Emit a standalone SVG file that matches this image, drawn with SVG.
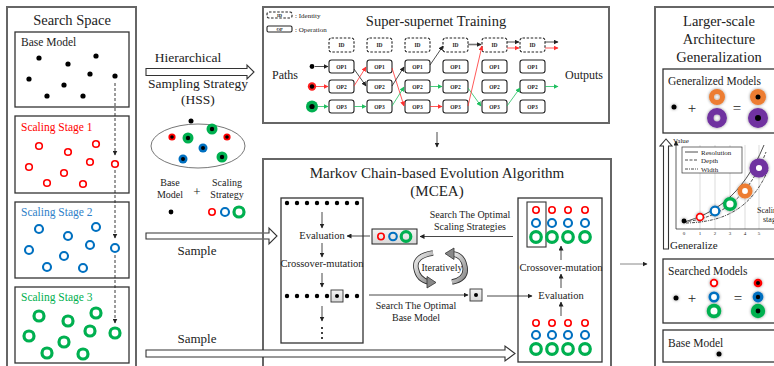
<svg xmlns="http://www.w3.org/2000/svg" width="774" height="366" viewBox="0 0 774 366">
<defs>
<style>
text{font-family:"Liberation Serif","Times New Roman",serif;fill:#222}
.outer{fill:none;stroke:#666;stroke-width:2}
.box{fill:none;stroke:#333;stroke-width:1.3}
.rr{fill:none;stroke:#ff0000;stroke-width:1.6}
.bb{fill:none;stroke:#0070c0;stroke-width:2.1}
.gg{fill:none;stroke:#00b050;stroke-width:3.2}
.nd{fill:#fff;stroke:#222;stroke-width:1.1}
.id{fill:#fff;stroke:#222;stroke-width:1.1;stroke-dasharray:2.5 1.6}
.nl{font-size:5.5px;font-weight:bold;text-anchor:middle}
.ek{stroke:#222;stroke-width:0.8;fill:none}
.er{stroke:#ff3030;stroke-width:0.8;fill:none}
.eg{stroke:#1fbf5f;stroke-width:0.8;fill:none}
.hol{fill:#fff;stroke:#333;stroke-width:1.1}
.ar{stroke:#333;stroke-width:0.9;fill:none}
.sm{font-size:10.5px;text-anchor:middle}
</style>
<marker id="mk" viewBox="0 0 10 10" refX="9" refY="5" markerWidth="5" markerHeight="5" markerUnits="userSpaceOnUse" orient="auto"><path d="M0,0L10,5L0,10z" fill="#222"/></marker>
<marker id="mr" viewBox="0 0 10 10" refX="9" refY="5" markerWidth="5" markerHeight="5" markerUnits="userSpaceOnUse" orient="auto"><path d="M0,0L10,5L0,10z" fill="#ff3030"/></marker>
<marker id="mg" viewBox="0 0 10 10" refX="9" refY="5" markerWidth="5" markerHeight="5" markerUnits="userSpaceOnUse" orient="auto"><path d="M0,0L10,5L0,10z" fill="#1fbf5f"/></marker>
<linearGradient id="gb" x1="0" y1="0" x2="0" y2="1"><stop offset="0" stop-color="#f4f4f4"/><stop offset="1" stop-color="#d8d8d8"/></linearGradient>
<linearGradient id="ga" x1="0" y1="0" x2="1" y2="1"><stop offset="0" stop-color="#eee"/><stop offset="1" stop-color="#888"/></linearGradient>
<filter id="sh" x="-50%" y="-50%" width="200%" height="200%"><feDropShadow dx="0" dy="0" stdDeviation="1.4" flood-color="#000" flood-opacity="0.45"/></filter>
</defs>

<!-- Left panel: Search Space -->
<g id="search-space">
<rect class="outer" x="7" y="7" width="129" height="366"/>
<text x="72" y="25" font-size="14.5" text-anchor="middle">Search Space</text>
</g>
<g id="base-model-space">
<rect class="box" x="15" y="32" width="114" height="75"/>
<text x="21" y="46" font-size="11.5">Base Model</text>
<g fill="#000">
<circle cx="39" cy="58" r="2.6"/><circle cx="68" cy="64" r="2.6"/><circle cx="96" cy="56" r="2.6"/>
<circle cx="29" cy="79" r="2.6"/><circle cx="64" cy="85" r="2.6"/><circle cx="90" cy="74" r="2.6"/>
<circle cx="115" cy="76" r="2.6"/><circle cx="47" cy="96" r="2.6"/><circle cx="83" cy="96" r="2.6"/>
</g>
</g>
<g id="stage1">
<rect class="box" x="15" y="116" width="114" height="77"/>
<text x="21" y="131" font-size="11.5" style="fill:#ff0000">Scaling Stage 1</text>
<g class="rr">
<circle cx="39" cy="146" r="3.3"/><circle cx="68" cy="152" r="3.3"/><circle cx="96" cy="144" r="3.3"/>
<circle cx="29" cy="167" r="3.3"/><circle cx="64" cy="173" r="3.3"/><circle cx="90" cy="162" r="3.3"/>
<circle cx="115" cy="164" r="3.3"/><circle cx="47" cy="183" r="3.3"/><circle cx="83" cy="184" r="3.3"/>
</g>
</g>
<g id="stage2">
<rect class="box" x="15" y="202" width="114" height="76"/>
<text x="21" y="216" font-size="11.5" style="fill:#2f80c8">Scaling Stage 2</text>
<g class="bb">
<circle cx="39" cy="229" r="4"/><circle cx="68" cy="236" r="4"/><circle cx="96" cy="227" r="4"/>
<circle cx="29" cy="250" r="4"/><circle cx="64" cy="256" r="4"/><circle cx="90" cy="245" r="4"/>
<circle cx="115" cy="248" r="4"/><circle cx="47" cy="267" r="4"/><circle cx="83" cy="268" r="4"/>
</g>
</g>
<g id="stage3">
<rect class="box" x="15" y="287" width="114" height="76"/>
<text x="21" y="301" font-size="11.5" style="fill:#00b050">Scaling Stage 3</text>
<g class="gg">
<circle cx="39" cy="316" r="5"/><circle cx="68" cy="321" r="5"/><circle cx="96" cy="313" r="5"/>
<circle cx="29" cy="336" r="5"/><circle cx="64" cy="342" r="5"/><circle cx="90" cy="331" r="5"/>
<circle cx="115" cy="333" r="5"/><circle cx="47" cy="353" r="5"/><circle cx="83" cy="354" r="5"/>
</g>
</g>

<!-- HSS -->
<g id="hss">
<polygon class="hol" points="146,68.5 247,68.5 247,65 254,72 247,79 247,75.5 146,75.5"/>
<text x="188" y="62" font-size="13.5" text-anchor="middle">Hierarchical</text>
<text x="198" y="88" font-size="13.5" text-anchor="middle">Sampling Strategy</text>
<text x="198" y="104" font-size="13.5" text-anchor="middle">(HSS)</text>
<ellipse cx="198" cy="146" rx="47" ry="22" fill="none" stroke="#777" stroke-width="1"/>
<circle cx="191" cy="121" r="2.5" fill="#000"/>
<circle cx="212" cy="129" r="5.5" fill="#00b050"/><circle cx="212" cy="129" r="2.2" fill="#000"/>
<circle cx="172" cy="137" r="3.6" fill="#ff0000"/><circle cx="172" cy="137" r="1.8" fill="#000"/>
<circle cx="188" cy="138" r="5.5" fill="#00b050"/><circle cx="188" cy="138" r="2.2" fill="#000"/>
<circle cx="227" cy="137" r="3.6" fill="#ff0000"/><circle cx="227" cy="137" r="1.8" fill="#000"/>
<circle cx="203" cy="148" r="4.5" fill="#0070c0"/><circle cx="203" cy="148" r="2" fill="#000"/>
<circle cx="183" cy="159" r="4.5" fill="#0070c0"/><circle cx="183" cy="159" r="2" fill="#000"/>
<circle cx="222" cy="157" r="5.5" fill="#00b050"/><circle cx="222" cy="157" r="2.2" fill="#000"/>
<text x="170" y="186" font-size="10" text-anchor="middle">Base</text>
<text x="170" y="198" font-size="10" text-anchor="middle">Model</text>
<text x="197" y="196" font-size="13" text-anchor="middle">+</text>
<text x="227" y="186" font-size="10" text-anchor="middle">Scaling</text>
<text x="227" y="198" font-size="10" text-anchor="middle">Strategy</text>
<circle cx="171" cy="212" r="2.4" fill="#000"/>
<circle cx="212" cy="212" r="3.2" class="rr"/>
<circle cx="225" cy="212" r="4" class="bb"/>
<circle cx="239" cy="212" r="5" class="gg"/>
</g>

<!-- Sample arrows -->
<g id="sample-arrows">
<polygon class="hol" points="146,233 269,233 269,228 277,236 269,244 269,239 146,239"/>
<text x="197" y="255" font-size="13" text-anchor="middle">Sample</text>
<text x="197" y="343" font-size="13" text-anchor="middle">Sample</text>
</g>

<!-- Super-supernet training -->
<g id="supernet">
<rect x="263" y="7" width="346" height="116" fill="#fff" stroke="#666" stroke-width="2"/>
<text x="436" y="26" font-size="14.5" text-anchor="middle">Super-supernet Training</text>
<rect class="id" x="267" y="12" width="25" height="6" rx="2"/><text x="279.5" y="17" class="nl" style="font-size:4.5px">ID</text>
<text x="295" y="18" font-size="7">: Identity</text>
<rect class="nd" x="267" y="26" width="25" height="6" rx="1.5"/><text x="279.5" y="31" class="nl" style="font-size:4.5px">OP</text>
<text x="295" y="32" font-size="7">: Operation</text>
<text x="272" y="79" font-size="12">Paths</text>
<text x="565" y="79" font-size="12">Outputs</text>
<circle cx="312" cy="66.5" r="2.4" fill="#000"/>
<circle cx="312" cy="86.5" r="4.2" fill="#ff2020"/><circle cx="312" cy="86.5" r="2.2" fill="#000"/>
<circle cx="312" cy="106.5" r="6" fill="#00b050"/><circle cx="312" cy="106.5" r="2.6" fill="#000"/>
</g>
<g id="ss-nodes">
<g id="col1"><rect class="id" x="329" y="38" width="25" height="14" rx="2.5"/><text class="nl" x="341.5" y="47">ID</text>
<rect class="nd" x="329" y="60" width="25" height="13" rx="2.5"/><text class="nl" x="341.5" y="68.5">OP1</text>
<rect class="nd" x="329" y="80" width="25" height="13" rx="2.5"/><text class="nl" x="341.5" y="88.5">OP2</text>
<rect class="nd" x="329" y="100" width="25" height="13" rx="2.5"/><text class="nl" x="341.5" y="108.5">OP3</text></g>
<g id="col2"><rect class="id" x="367" y="38" width="25" height="14" rx="2.5"/><text class="nl" x="379.5" y="47">ID</text>
<rect class="nd" x="367" y="60" width="25" height="13" rx="2.5"/><text class="nl" x="379.5" y="68.5">OP1</text>
<rect class="nd" x="367" y="80" width="25" height="13" rx="2.5"/><text class="nl" x="379.5" y="88.5">OP2</text>
<rect class="nd" x="367" y="100" width="25" height="13" rx="2.5"/><text class="nl" x="379.5" y="108.5">OP3</text></g>
<g id="col3"><rect class="id" x="405" y="38" width="25" height="14" rx="2.5"/><text class="nl" x="417.5" y="47">ID</text>
<rect class="nd" x="405" y="60" width="25" height="13" rx="2.5"/><text class="nl" x="417.5" y="68.5">OP1</text>
<rect class="nd" x="405" y="80" width="25" height="13" rx="2.5"/><text class="nl" x="417.5" y="88.5">OP2</text>
<rect class="nd" x="405" y="100" width="25" height="13" rx="2.5"/><text class="nl" x="417.5" y="108.5">OP3</text></g>
<g id="col4"><rect class="id" x="443" y="38" width="25" height="14" rx="2.5"/><text class="nl" x="455.5" y="47">ID</text>
<rect class="nd" x="443" y="60" width="25" height="13" rx="2.5"/><text class="nl" x="455.5" y="68.5">OP1</text>
<rect class="nd" x="443" y="80" width="25" height="13" rx="2.5"/><text class="nl" x="455.5" y="88.5">OP2</text>
<rect class="nd" x="443" y="100" width="25" height="13" rx="2.5"/><text class="nl" x="455.5" y="108.5">OP3</text></g>
<g id="col5"><rect class="id" x="482" y="38" width="25" height="14" rx="2.5"/><text class="nl" x="494.5" y="47">ID</text>
<rect class="nd" x="482" y="60" width="25" height="13" rx="2.5"/><text class="nl" x="494.5" y="68.5">OP1</text>
<rect class="nd" x="482" y="80" width="25" height="13" rx="2.5"/><text class="nl" x="494.5" y="88.5">OP2</text>
<rect class="nd" x="482" y="100" width="25" height="13" rx="2.5"/><text class="nl" x="494.5" y="108.5">OP3</text></g>
<g id="col6"><rect class="id" x="520" y="38" width="25" height="14" rx="2.5"/><text class="nl" x="532.5" y="47">ID</text>
<rect class="nd" x="520" y="60" width="25" height="13" rx="2.5"/><text class="nl" x="532.5" y="68.5">OP1</text>
<rect class="nd" x="520" y="80" width="25" height="13" rx="2.5"/><text class="nl" x="532.5" y="88.5">OP2</text>
<rect class="nd" x="520" y="100" width="25" height="13" rx="2.5"/><text class="nl" x="532.5" y="108.5">OP3</text></g>
</g>
<g id="ss-edges">
<line class="ek" x1="315" y1="66.5" x2="328" y2="66.5" marker-end="url(#mk)"/>
<line class="er" x1="316" y1="86.5" x2="328" y2="86.5" marker-end="url(#mr)"/>
<line class="eg" x1="318" y1="106.5" x2="328" y2="106.5" marker-end="url(#mg)"/>
<line class="ek" x1="354" y1="69" x2="366" y2="86" marker-end="url(#mk)"/>
<line class="er" x1="354" y1="86" x2="366" y2="67" marker-end="url(#mr)"/>
<line class="eg" x1="354" y1="106.5" x2="366" y2="106.5" marker-end="url(#mg)"/>
<line class="er" x1="392" y1="68" x2="404" y2="106" marker-end="url(#mr)"/>
<line class="ek" x1="392" y1="86" x2="404" y2="67" marker-end="url(#mk)"/>
<line class="eg" x1="392" y1="106" x2="404" y2="87" marker-end="url(#mg)"/>
<line class="ek" x1="430" y1="65" x2="443" y2="46" marker-end="url(#mk)"/>
<line class="eg" x1="430" y1="86.5" x2="442" y2="86.5" marker-end="url(#mg)"/>
<line class="er" x1="430" y1="106.5" x2="442" y2="106.5" marker-end="url(#mr)"/>
<line x1="468" y1="44.5" x2="481" y2="44.5" stroke="#777" stroke-width="1.6" marker-end="url(#mk)"/>
<line class="eg" x1="468" y1="88" x2="481" y2="106" marker-end="url(#mg)"/>
<line class="er" x1="468" y1="106" x2="482" y2="46" marker-end="url(#mr)"/>
<line class="ek" x1="507" y1="42" x2="519" y2="42" marker-end="url(#mk)"/>
<line class="er" x1="507" y1="48" x2="519" y2="48" marker-end="url(#mr)"/>
<line class="eg" x1="507" y1="106" x2="520" y2="88" marker-end="url(#mg)"/>
<line class="ek" x1="545" y1="42" x2="558" y2="42" marker-end="url(#mk)"/>
<line class="er" x1="545" y1="48" x2="558" y2="48" marker-end="url(#mr)"/>
<line class="eg" x1="545" y1="86.5" x2="558" y2="86.5" marker-end="url(#mg)"/>
</g>

<!-- MCEA -->
<g id="mcea">
<rect class="outer" x="263" y="159" width="348" height="215"/>
<text x="437" y="178" font-size="15" text-anchor="middle">Markov Chain-based Evolution Algorithm</text>
<text x="437" y="196" font-size="15" text-anchor="middle">(MCEA)</text>
</g>
<g id="mcea-left">
<rect class="box" x="281" y="198" width="82" height="145"/>
<g fill="#000"><circle cx="287" cy="203" r="2.2"/><circle cx="297" cy="203" r="2.2"/><circle cx="307" cy="203" r="2.2"/><circle cx="317" cy="203" r="2.2"/><circle cx="327" cy="203" r="2.2"/><circle cx="337" cy="203" r="2.2"/><circle cx="347" cy="203" r="2.2"/><circle cx="357" cy="203" r="2.2"/></g>
<text class="sm" x="322" y="239">Evaluation</text>
<text class="sm" x="322" y="267">Crossover-mutation</text>
<rect x="331" y="290" width="12" height="12" fill="url(#gb)" stroke="#333" stroke-width="0.9"/>
<g fill="#000"><circle cx="287" cy="296" r="2.2"/><circle cx="297" cy="296" r="2.2"/><circle cx="307" cy="296" r="2.2"/><circle cx="317" cy="296" r="2.2"/><circle cx="327" cy="296" r="2.2"/><circle cx="337" cy="296" r="2"/><circle cx="347" cy="296" r="2.2"/><circle cx="357" cy="296" r="2.2"/></g>
<g fill="#000"><circle cx="322" cy="328" r="1"/><circle cx="322" cy="333" r="1"/><circle cx="322" cy="338" r="1"/></g>
</g>
<g id="mcea-scaling-box">
<rect x="372" y="229" width="45" height="15" fill="url(#gb)" stroke="#222" stroke-width="1"/>
<circle cx="381" cy="236.5" r="3.2" class="rr"/>
<circle cx="393" cy="236.5" r="3.8" class="bb"/>
<circle cx="406" cy="236.5" r="4.8" class="gg"/>
</g>
<g id="mcea-base-box">
<rect x="470" y="289" width="12" height="12" fill="url(#gb)" stroke="#333" stroke-width="0.9"/>
<circle cx="476" cy="295" r="2" fill="#000"/>
</g>
<g id="mcea-text">
<text x="470" y="218" font-size="10" text-anchor="middle">Search The Optimal</text>
<text x="470" y="230" font-size="10" text-anchor="middle">Scaling Strategies</text>
<text x="416" y="309" font-size="10" text-anchor="middle">Search The Optimal</text>
<text x="416" y="321" font-size="10" text-anchor="middle">Base Model</text>
<text x="442" y="271" font-size="10" text-anchor="middle">Iteratively</text>
</g>
<g id="iter-arrows">
<path d="M433,253 Q414,256 416,268 Q418,280 429,282" fill="none" stroke="#333" stroke-width="5.5"/>
<path d="M433,253 Q414,256 416,268 Q418,280 429,282" fill="none" stroke="url(#ga)" stroke-width="3.8"/>
<polygon points="436,282.5 427,276.5 427,288" fill="#888" stroke="#333" stroke-width="0.8"/>
<path d="M452,282 Q467,279 465,267 Q463,255 453,254" fill="none" stroke="#333" stroke-width="5.5"/>
<path d="M452,282 Q467,279 465,267 Q463,255 453,254" fill="none" stroke="url(#ga)" stroke-width="3.8"/>
<polygon points="445,253.5 454,248 454,259.5" fill="#888" stroke="#333" stroke-width="0.8"/>
</g>
<g id="mcea-right">
<rect class="box" x="518" y="198" width="84" height="164"/>
<rect x="527" y="202" width="19" height="45" fill="none" stroke="#333" stroke-width="1.1"/>
<g class="rr"><circle cx="536" cy="210" r="3.2"/><circle cx="552" cy="210" r="3.2"/><circle cx="568" cy="210" r="3.2"/><circle cx="585" cy="210" r="3.2"/></g>
<g class="bb"><circle cx="536" cy="223" r="4"/><circle cx="552" cy="223" r="4"/><circle cx="568" cy="223" r="4"/><circle cx="585" cy="223" r="4"/></g>
<g class="gg"><circle cx="536" cy="237" r="5.3"/><circle cx="552" cy="237" r="5.3"/><circle cx="568" cy="237" r="5.3"/><circle cx="585" cy="237" r="5.3"/></g>
<text class="sm" x="561" y="271">Crossover-mutation</text>
<text class="sm" x="561" y="299">Evaluation</text>
<g class="rr"><circle cx="536" cy="323" r="3.2"/><circle cx="552" cy="323" r="3.2"/><circle cx="568" cy="323" r="3.2"/><circle cx="585" cy="323" r="3.2"/></g>
<g class="bb"><circle cx="536" cy="335" r="4"/><circle cx="552" cy="335" r="4"/><circle cx="568" cy="335" r="4"/><circle cx="585" cy="335" r="4"/></g>
<g class="gg"><circle cx="536" cy="349" r="5.3"/><circle cx="552" cy="349" r="5.3"/><circle cx="568" cy="349" r="5.3"/><circle cx="585" cy="349" r="5.3"/></g>
</g>

<!-- Right panel -->
<g id="generalization">
<rect class="outer" x="655" y="7" width="125" height="366"/>
<text x="719" y="26" font-size="14.5" text-anchor="middle">Larger-scale</text>
<text x="719" y="44" font-size="14.5" text-anchor="middle">Architecture</text>
<text x="719" y="62" font-size="14.5" text-anchor="middle">Generalization</text>
</g>
<g id="generalized-models">
<rect class="box" x="663" y="69" width="120" height="64"/>
<text x="668" y="85" font-size="11.5">Generalized Models</text>
<g filter="url(#sh)">
<circle cx="674" cy="107" r="2.5" fill="#000"/>
<circle cx="717" cy="97" r="5.5" fill="none" stroke="#ed7d31" stroke-width="5"/>
<circle cx="717" cy="118" r="6.7" fill="none" stroke="#7030a0" stroke-width="6.5"/>
<circle cx="758" cy="97" r="8" fill="#ed7d31"/>
<circle cx="758" cy="118" r="10" fill="#7030a0"/>
</g>
<circle cx="758" cy="97" r="2.5" fill="#000"/>
<circle cx="758" cy="118" r="3" fill="#000"/>
<text x="692" y="113" font-size="15" text-anchor="middle">+</text>
<text x="737" y="113" font-size="15" text-anchor="middle">=</text>
</g>
<g id="chart">
<polygon class="hol" points="663.5,249 668.5,249 668.5,146 672,146 666,139 660,146 663.5,146"/>
<text x="673" y="143" font-size="7">Value</text>
<g stroke="#ccc" stroke-width="0.7"><line x1="700" y1="145" x2="700" y2="229"/><line x1="715" y1="145" x2="715" y2="229"/><line x1="730" y1="145" x2="730" y2="229"/><line x1="745" y1="145" x2="745" y2="229"/><line x1="759" y1="145" x2="759" y2="229"/></g>
<line x1="676" y1="229" x2="676" y2="141" stroke="#333" stroke-width="0.8" marker-end="url(#mk)"/>
<line x1="676" y1="229" x2="774" y2="229" stroke="#333" stroke-width="0.8"/>
<g font-size="5" text-anchor="middle"><text x="684" y="235">0</text><text x="700" y="235">1</text><text x="715" y="235">2</text><text x="730" y="235">3</text><text x="745" y="235">4</text><text x="759" y="235">5</text></g>
<rect x="682" y="147" width="60" height="26" fill="#fff" stroke="#333" stroke-width="0.7"/>
<line x1="685" y1="152" x2="698" y2="152" stroke="#222" stroke-width="0.8"/>
<line x1="685" y1="160" x2="698" y2="160" stroke="#222" stroke-width="0.8" stroke-dasharray="3 1.5"/>
<line x1="685" y1="169" x2="698" y2="169" stroke="#222" stroke-width="0.8" stroke-dasharray="3 1 1 1"/>
<text x="701" y="155" font-size="7">Resolution</text>
<text x="701" y="163" font-size="7">Depth</text>
<text x="701" y="172" font-size="7">Width</text>
<path d="M684,222 C712,214 742,198 764,145" fill="none" stroke="#222" stroke-width="0.8"/>
<path d="M684,222 C716,218 746,204 766,152" fill="none" stroke="#222" stroke-width="0.8" stroke-dasharray="3 1.5"/>
<path d="M686,223 C720,222 750,212 768,170" fill="none" stroke="#222" stroke-width="0.8" stroke-dasharray="3 1 1 1"/>
<g filter="url(#sh)">
<circle cx="684" cy="221" r="2.4" fill="#000"/>
<circle cx="700" cy="217" r="3.4" fill="#fff" stroke="#ff0000" stroke-width="1.6"/>
<circle cx="715" cy="211" r="4.3" fill="#fff" stroke="#0070c0" stroke-width="2.2"/>
<circle cx="730" cy="204" r="5.3" fill="#fff" stroke="#00b050" stroke-width="3.4"/>
<circle cx="745" cy="191" r="5.2" fill="#fff" stroke="#ed7d31" stroke-width="4.6"/>
<circle cx="759" cy="168" r="6.3" fill="#fff" stroke="#7030a0" stroke-width="6.5"/>
</g>
<text x="757" y="213" font-size="8">Scaling</text>
<text x="763" y="222" font-size="8">stage</text>
<text x="670" y="248.5" font-size="11">Generalize</text>
</g>
<g id="searched-models">
<rect class="box" x="663" y="259" width="120" height="64"/>
<text x="668" y="275" font-size="11.5">Searched Models</text>
<g filter="url(#sh)">
<circle cx="676" cy="298" r="2.5" fill="#000"/>
<circle cx="714" cy="283" r="3.3" fill="#fff" stroke="#ff0000" stroke-width="1.8"/>
<circle cx="714" cy="297" r="4.2" fill="#fff" stroke="#0070c0" stroke-width="2.6"/>
<circle cx="714" cy="311" r="5.4" fill="#fff" stroke="#00b050" stroke-width="3.8"/>
<circle cx="758" cy="283" r="4.3" fill="#ff0000"/>
<circle cx="758" cy="297" r="5.4" fill="#0070c0"/>
<circle cx="758" cy="311" r="7.2" fill="#00b050"/>
</g>
<circle cx="758" cy="283" r="2" fill="#000"/>
<circle cx="758" cy="297" r="2.2" fill="#000"/>
<circle cx="758" cy="311" r="2.4" fill="#000"/>
<text x="692" y="303" font-size="15" text-anchor="middle">+</text>
<text x="738" y="303" font-size="15" text-anchor="middle">=</text>
</g>
<g id="base-model-out">
<rect class="box" x="663" y="330" width="120" height="32"/>
<text x="668" y="347" font-size="11.5">Base Model</text>
<circle cx="719" cy="354" r="2.5" fill="#000" filter="url(#sh)"/>
</g>

<!-- Connectors -->
<g id="connectors">
<line x1="115" y1="83" x2="115" y2="155" stroke="#222" stroke-width="0.9" stroke-dasharray="3 2" marker-end="url(#mk)"/>
<line x1="115" y1="170" x2="115" y2="238" stroke="#222" stroke-width="0.9" stroke-dasharray="3 2" marker-end="url(#mk)"/>
<line x1="115" y1="255" x2="115" y2="323" stroke="#222" stroke-width="0.9" stroke-dasharray="3 2" marker-end="url(#mk)"/>
<line class="ar" x1="437" y1="132" x2="437" y2="147" marker-end="url(#mk)"/>
<line class="ar" x1="322" y1="212" x2="322" y2="228" marker-end="url(#mk)"/>
<line class="ar" x1="370" y1="236" x2="347" y2="236" stroke="#666" marker-end="url(#mk)"/>
<line class="ar" x1="322" y1="243" x2="322" y2="257" marker-end="url(#mk)"/>
<line class="ar" x1="322" y1="273" x2="322" y2="287" marker-end="url(#mk)"/>
<line class="ar" x1="322" y1="306" x2="322" y2="321" marker-end="url(#mk)"/>
<line class="ar" x1="513" y1="236.5" x2="420" y2="236.5" marker-end="url(#mk)"/>
<line class="ar" x1="369" y1="295" x2="468" y2="295" marker-end="url(#mk)"/>
<line class="ar" x1="487" y1="296" x2="532" y2="296" marker-end="url(#mk)"/>
<line class="ar" x1="561" y1="316" x2="561" y2="302" marker-end="url(#mk)"/>
<line class="ar" x1="561" y1="288" x2="561" y2="274" marker-end="url(#mk)"/>
<line class="ar" x1="561" y1="260" x2="561" y2="246" marker-end="url(#mk)"/>
<line x1="620" y1="264" x2="647" y2="264" stroke="#888" stroke-width="1" marker-end="url(#mk)"/>
<polygon class="hol" points="146,350 505,350 505,346 515,353.5 505,361 505,357 146,357"/>
</g>
</svg>
